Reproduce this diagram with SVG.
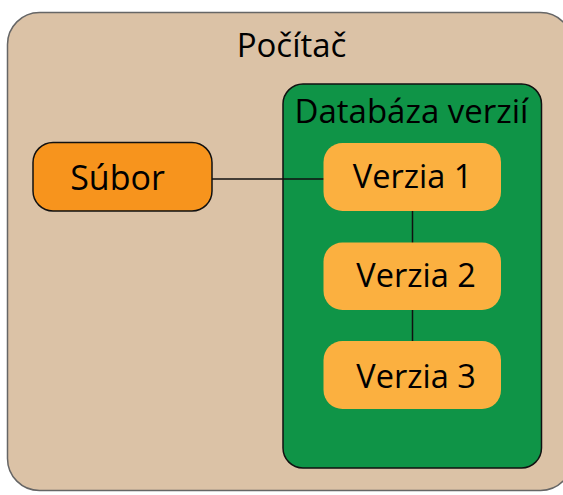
<svg xmlns="http://www.w3.org/2000/svg" width="563" height="495" viewBox="0 0 563 495">
<style>
text{font-family:"Open Sans","Noto Sans","DejaVu Sans",sans-serif;fill:#000;text-anchor:middle}
.ver{fill:#fbb040}
.lbl{font-size:32.5px}
</style>
<rect width="563" height="495" fill="#fff"/>
<g id="pocitac">
<rect x="7.5" y="12.5" width="565" height="478" rx="32" fill="#dbc2a6" stroke="#666" stroke-width="1.5"/>
<text x="291.5" y="57" font-size="33">Počítač</text>
</g>
<g id="databaza">
<rect x="283" y="84" width="258.5" height="384" rx="20" fill="#0f9447" stroke="#111" stroke-width="1.5"/>
<text x="411.5" y="123" font-size="33">Databáza verzií</text>
</g>
<g id="connectors" stroke="#111" stroke-width="1.5" fill="none">
<line x1="212" y1="179" x2="324" y2="179"/>
<line x1="412.5" y1="210" x2="412.5" y2="243"/>
<line x1="412.5" y1="309" x2="412.5" y2="342"/>
</g>
<g id="subor">
<rect x="33" y="142.5" width="179" height="68.5" rx="20" fill="#f7941d" stroke="#111" stroke-width="1.5"/>
<text x="117.5" y="190" font-size="34">Súbor</text>
</g>
<g id="verzia1">
<rect class="ver" x="323.5" y="143" width="177.5" height="68" rx="19"/>
<text class="lbl" x="412.5" y="187.5">Verzia 1</text>
</g>
<g id="verzia2">
<rect class="ver" x="323.5" y="242.5" width="177.5" height="67.5" rx="19"/>
<text class="lbl" x="416" y="287">Verzia 2</text>
</g>
<g id="verzia3">
<rect class="ver" x="323.5" y="341" width="177.5" height="68" rx="19"/>
<text class="lbl" x="416" y="387.5">Verzia 3</text>
</g>
</svg>
